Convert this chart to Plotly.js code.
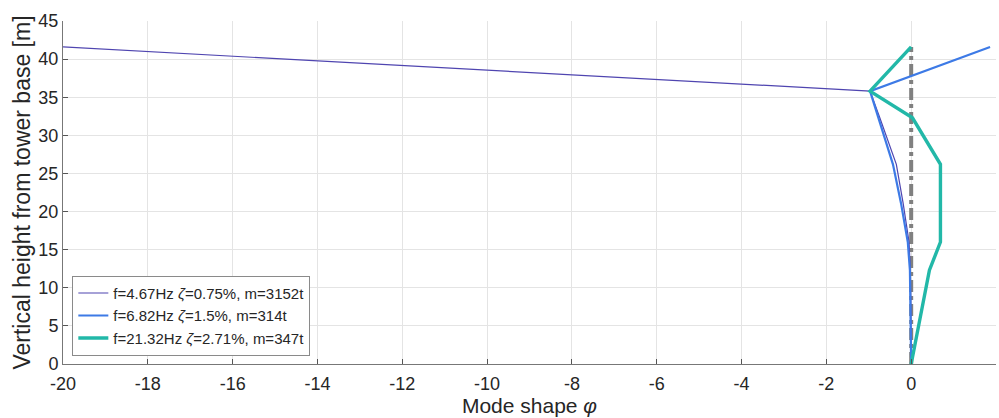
<!DOCTYPE html>
<html>
<head>
<meta charset="utf-8">
<script src="https://cdn.plot.ly/plotly-3.0.1.min.js"></script>
<style>
  html, body { margin: 0; padding: 0; background: #ffffff; }
  #chart { width: 999px; height: 418px; }
</style>
</head>
<body>
<div id="chart"></div>
<script>
// Node heights along the tower [m]
const heights = [0, 4.1, 8.2, 12.3, 16.0, 21.1, 26.2, 32.3, 35.8, 41.6];

// Mode shape amplitudes at each node
const mode1 = [0, 0, -0.01, -0.02, -0.05, -0.19, -0.35, -0.74, -0.97, -20.0];
const mode2 = [0, -0.01, -0.01, -0.03, -0.08, -0.24, -0.43, -0.77, -0.97, 1.86];
const mode3 = [0, 0.14, 0.28, 0.43, 0.69, 0.69, 0.69, 0.03, -0.97, 0.0];

// Zero reference line
const refX = [0, 0];
const refY = [0, 41.6];

const modeNames = [
  'f=4.67Hz <i>ζ</i>=0.75%, m=3152t',
  'f=6.82Hz <i>ζ</i>=1.5%, m=314t',
  'f=21.32Hz <i>ζ</i>=2.71%, m=347t'
];

const xTicks = [-20, -18, -16, -14, -12, -10, -8, -6, -4, -2, 0, 2];
const yTicks = [0, 5, 10, 15, 20, 25, 30, 35, 40, 45];

const traces = [
  {
    x: refX, y: refY, mode: 'lines', showlegend: false, hoverinfo: 'skip',
    line: { color: '#808080', width: 4, dash: 'dashdot' }
  },
  {
    x: mode1, y: heights, mode: 'lines', name: modeNames[0],
    line: { color: '#4f45b0', width: 1.2 }
  },
  {
    x: mode2, y: heights, mode: 'lines', name: modeNames[1],
    line: { color: '#3d7ae6', width: 2.2 }
  },
  {
    x: mode3, y: heights, mode: 'lines', name: modeNames[2],
    line: { color: '#22b8a8', width: 3.4 }
  }
];

const FONT = 'Liberation Sans, Arial, sans-serif';
const tickFont = { family: FONT, size: 18, color: '#262626' };

const layout = {
  width: 999, height: 418,
  margin: { l: 63, r: 3, t: 21, b: 54 },
  paper_bgcolor: '#ffffff',
  plot_bgcolor: '#ffffff',
  font: tickFont,
  showlegend: true,
  xaxis: {
    range: [-20, 2],
    tickmode: 'array', tickvals: xTicks, ticktext: xTicks.map(String),
    ticks: 'inside', ticklen: 5, tickcolor: '#555555',
    showline: true, linecolor: '#777777', linewidth: 1,
    showgrid: true, gridcolor: '#e4e4e4', gridwidth: 1,
    zeroline: false,
    tickfont: tickFont,
    ticklabelstandoff: 3,
    title: { text: 'Mode shape <i>φ</i>', font: { family: FONT, size: 21, color: '#262626' }, standoff: 5 }
  },
  yaxis: {
    range: [0, 45],
    tickmode: 'array', tickvals: yTicks, ticktext: yTicks.map(String),
    ticks: 'inside', ticklen: 5, tickcolor: '#555555',
    showline: true, linecolor: '#777777', linewidth: 1,
    showgrid: true, gridcolor: '#e4e4e4', gridwidth: 1,
    zeroline: false,
    tickfont: tickFont,
    title: { text: 'Vertical height from tower base [m]', font: { family: FONT, size: 23, color: '#262626' }, standoff: 1 }
  },
  legend: {
    x: 0.010, y: 0.024, xanchor: 'left', yanchor: 'bottom',
    bgcolor: '#ffffff', bordercolor: '#8a8a8a', borderwidth: 1,
    font: { family: FONT, size: 15, color: '#262626' },
    tracegroupgap: 0, itemwidth: 30
  }
};

Plotly.newPlot('chart', traces, layout, { displayModeBar: false, staticPlot: true });
</script>
</body>
</html>
